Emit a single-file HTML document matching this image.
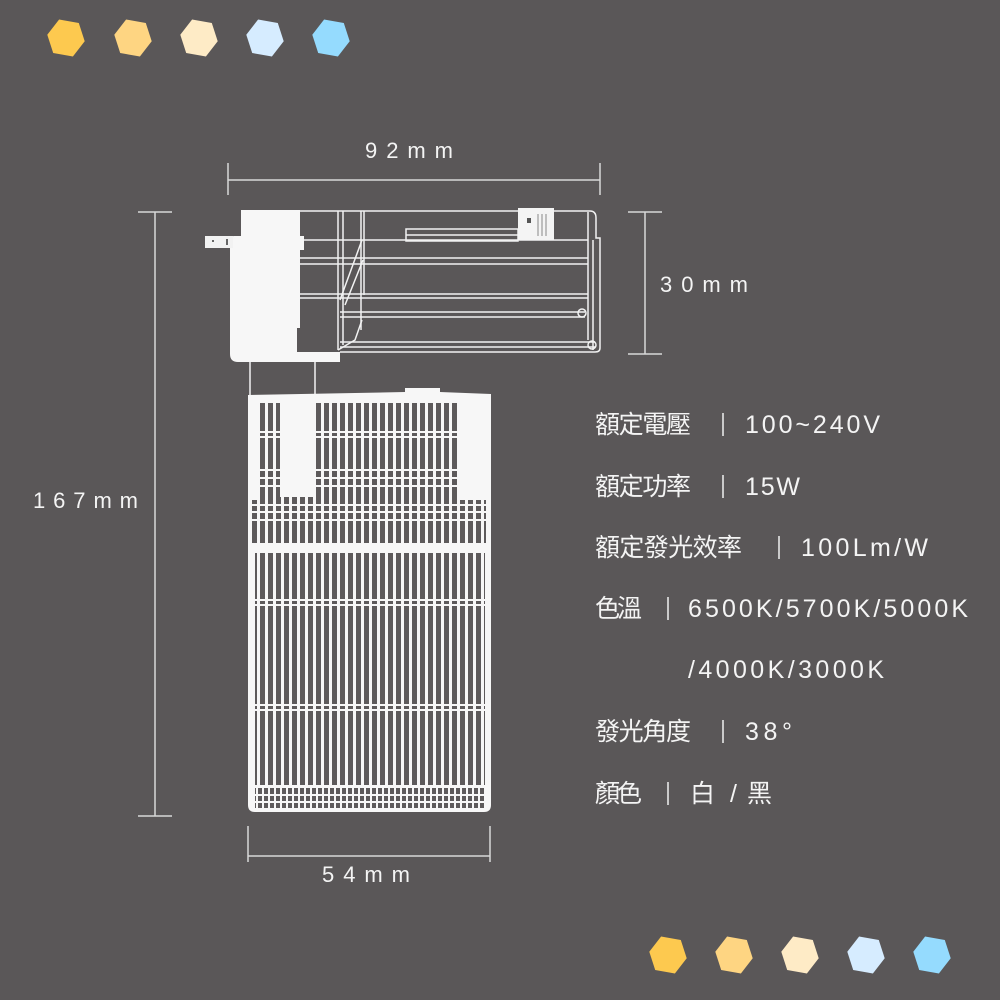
<!DOCTYPE html>
<html><head><meta charset="utf-8"><style>
html,body{margin:0;padding:0;background:#5a5758;}
svg{display:block}
.t{font-family:"Liberation Sans","Noto Sans CJK TC",sans-serif;fill:#f4f4f4;}
</style></head><body>
<svg width="1000" height="1000" viewBox="0 0 1000 1000" xmlns="http://www.w3.org/2000/svg">
<defs>
<pattern id="vs" x="252" y="0" width="8" height="10" patternUnits="userSpaceOnUse">
<rect x="0" y="0" width="5" height="10" fill="#5d5a5b"/>
</pattern>
<pattern id="vs2" x="252" y="0" width="6" height="10" patternUnits="userSpaceOnUse">
<rect x="0" y="0" width="4" height="10" fill="#5d5a5b"/>
</pattern>
</defs>
<rect width="1000" height="1000" fill="#5a5758"/>

<!-- hexagons -->
<g>
<polygon points="56,21 76,21 85,38 76,55 56,55 47,38" fill="#fdc94f" transform="rotate(10 66 38)"/>
<polygon points="123,21 143,21 152,38 143,55 123,55 114,38" fill="#fed582" transform="rotate(10 133 38)"/>
<polygon points="189,21 209,21 218,38 209,55 189,55 180,38" fill="#feebc6" transform="rotate(10 199 38)"/>
<polygon points="255,21 275,21 284,38 275,55 255,55 246,38" fill="#d6ecff" transform="rotate(10 265 38)"/>
<polygon points="321,21 341,21 350,38 341,55 321,55 312,38" fill="#95dbfe" transform="rotate(10 331 38)"/>
</g>
<g>
<polygon points="658,938 678,938 687,955 678,972 658,972 649,955" fill="#fdc94f" transform="rotate(10 668 955)"/>
<polygon points="724,938 744,938 753,955 744,972 724,972 715,955" fill="#fed582" transform="rotate(10 734 955)"/>
<polygon points="790,938 810,938 819,955 810,972 790,972 781,955" fill="#feebc6" transform="rotate(10 800 955)"/>
<polygon points="856,938 876,938 885,955 876,972 856,972 847,955" fill="#d6ecff" transform="rotate(10 866 955)"/>
<polygon points="922,938 942,938 951,955 942,972 922,972 913,955" fill="#95dbfe" transform="rotate(10 932 955)"/>
</g>

<!-- dimension lines -->
<g stroke="#d8d8d8" stroke-width="1.5" fill="none">
<line x1="228" y1="180" x2="600" y2="180"/>
<line x1="228" y1="163" x2="228" y2="195"/>
<line x1="600" y1="163" x2="600" y2="195"/>
<line x1="645" y1="212" x2="645" y2="354"/>
<line x1="628" y1="212" x2="662" y2="212"/>
<line x1="628" y1="354" x2="662" y2="354"/>
<line x1="155" y1="212" x2="155" y2="816"/>
<line x1="138" y1="212" x2="172" y2="212"/>
<line x1="138" y1="816" x2="172" y2="816"/>
<line x1="248" y1="856" x2="490" y2="856"/>
<line x1="248" y1="826" x2="248" y2="862"/>
<line x1="490" y1="826" x2="490" y2="862"/>
</g>
<g class="t" font-size="22">
<text x="365" y="158" textLength="88" lengthAdjust="spacing">92mm</text>
<text x="660" y="292" textLength="88" lengthAdjust="spacing">30mm</text>
<text x="33" y="508" textLength="105" lengthAdjust="spacing">167mm</text>
<text x="322" y="882" textLength="88" lengthAdjust="spacing">54mm</text>
</g>

<!-- head wireframe -->
<g stroke="#f2f2f2" stroke-width="1.5" fill="none">
<path d="M300 211 H590 Q596 211 596 218 V238 H600 V348 Q600 352 595 352 H340"/>
<line x1="300" y1="240" x2="588" y2="240"/>
<line x1="300" y1="258" x2="588" y2="258"/>
<line x1="300" y1="264" x2="588" y2="264"/>
<line x1="300" y1="294" x2="588" y2="294"/>
<line x1="300" y1="298" x2="588" y2="298"/>
<line x1="340" y1="312" x2="585" y2="312"/>
<line x1="340" y1="317" x2="585" y2="317"/>
<line x1="340" y1="342" x2="595" y2="342"/>
<line x1="340" y1="347" x2="595" y2="347"/>
<line x1="588" y1="212" x2="588" y2="340"/>
<line x1="593" y1="240" x2="593" y2="350"/>
<line x1="338" y1="211" x2="338" y2="350"/>
<line x1="343" y1="211" x2="343" y2="345"/>
<line x1="361" y1="211" x2="361" y2="330"/>
<line x1="364" y1="211" x2="364" y2="295"/>
<line x1="340" y1="300" x2="362" y2="240"/>
<line x1="345" y1="305" x2="363" y2="260"/>
<path d="M338 350 L355 340 L362 320"/>
<rect x="406" y="229" width="112" height="12"/>
<line x1="406" y1="235" x2="518" y2="235"/>
<circle cx="582" cy="313" r="4"/>
<circle cx="592" cy="345" r="4"/>
</g>
<rect x="518" y="208" width="36" height="32" fill="#f4f4f4"/>
<g stroke="#888" stroke-width="1"><line x1="538" y1="214" x2="538" y2="236"/><line x1="542" y1="214" x2="542" y2="236"/><line x1="546" y1="214" x2="546" y2="236"/></g>
<rect x="527" y="218" width="4" height="5" fill="#555"/>

<!-- white block -->
<path d="M241 210 H300 V236 H304 V250 H300 V328 H297 V352 H340 V362 H238 Q230 362 230 354 V240 Q230 236 234 236 H241 Z" fill="#f7f7f7"/>
<rect x="205" y="236" width="28" height="12" fill="#f2f2f2"/>
<rect x="212" y="240" width="2" height="2" fill="#666"/>
<rect x="226" y="239" width="2" height="6" fill="#666"/>

<!-- stems -->
<g stroke="#f2f2f2" stroke-width="1.5"><line x1="250" y1="362" x2="250" y2="395"/><line x1="315" y1="362" x2="315" y2="395"/></g>

<!-- cylinder body -->
<path d="M248 395 L405 392 V388 H440 V392 L491 394 V805 Q491 812 484 812 H255 Q248 812 248 805 Z" fill="#f7f7f7"/>
<rect x="260" y="403" width="198" height="140" fill="url(#vs)"/>
<rect x="458" y="500" width="28" height="43" fill="url(#vs)"/>
<rect x="252" y="500" width="8" height="43" fill="url(#vs)"/>
<rect x="280" y="402" width="36" height="95" fill="#f7f7f7"/>
<g stroke="#f7f7f7" stroke-width="2">
<line x1="260" y1="432" x2="458" y2="432"/>
<line x1="260" y1="437" x2="458" y2="437"/>
<line x1="260" y1="470" x2="458" y2="470"/>
<line x1="260" y1="478" x2="458" y2="478"/>
<line x1="260" y1="486" x2="458" y2="486"/>
<line x1="252" y1="505" x2="486" y2="505"/>
<line x1="252" y1="512" x2="486" y2="512"/>
<line x1="252" y1="520" x2="486" y2="520"/>
</g>
<rect x="255" y="553" width="230" height="232" fill="url(#vs)"/>
<g stroke="#f7f7f7" stroke-width="2">
<line x1="250" y1="600" x2="489" y2="600"/>
<line x1="250" y1="605" x2="489" y2="605"/>
<line x1="250" y1="705" x2="489" y2="705"/>
<line x1="250" y1="710" x2="489" y2="710"/>
</g>
<rect x="255" y="788" width="230" height="20" fill="url(#vs2)"/>
<g stroke="#f7f7f7" stroke-width="2">
<line x1="250" y1="795" x2="489" y2="795"/>
<line x1="250" y1="802" x2="489" y2="802"/>
</g>

<!-- spec text -->
<g class="t" font-size="25">
<text x="595" y="433" textLength="96" lengthAdjust="spacing">額定電壓</text>
<text x="745" y="433" textLength="135" lengthAdjust="spacing">100~240V</text>
<text x="595" y="495" textLength="96" lengthAdjust="spacing">額定功率</text>
<text x="745" y="495" textLength="55" lengthAdjust="spacing">15W</text>
<text x="595" y="556" textLength="147" lengthAdjust="spacing">額定發光效率</text>
<text x="801" y="556" textLength="127" lengthAdjust="spacing">100Lm/W</text>
<text x="595" y="617" textLength="47" lengthAdjust="spacing">色溫</text>
<text x="688" y="617" textLength="280" lengthAdjust="spacing">6500K/5700K/5000K</text>
<text x="688" y="678" textLength="196" lengthAdjust="spacing">/4000K/3000K</text>
<text x="595" y="740" textLength="96" lengthAdjust="spacing">發光角度</text>
<text x="745" y="740" textLength="47" lengthAdjust="spacing">38°</text>
<text x="595" y="802" textLength="47" lengthAdjust="spacing">顏色</text>
<text x="690" y="802">白</text>
<text x="730" y="802">/</text>
<text x="747" y="802">黑</text>
</g>
<g stroke="#f0f0f0" stroke-width="1.5">
<line x1="723" y1="413" x2="723" y2="436"/>
<line x1="723" y1="475" x2="723" y2="498"/>
<line x1="779" y1="536" x2="779" y2="559"/>
<line x1="668" y1="597" x2="668" y2="620"/>
<line x1="723" y1="720" x2="723" y2="743"/>
<line x1="668" y1="782" x2="668" y2="805"/>
</g>
</svg>
</body></html>
